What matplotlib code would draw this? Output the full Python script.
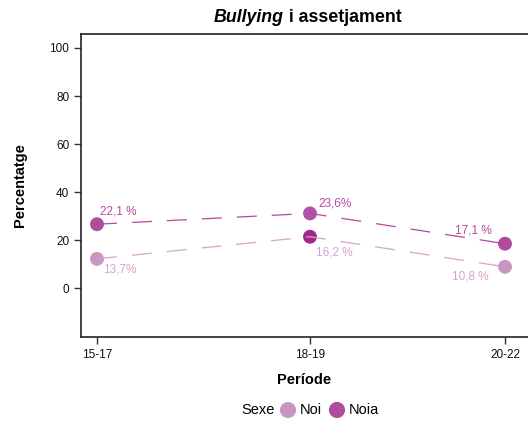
import matplotlib.pyplot as plt

plt.rcParams['font.family'] = ['Liberation Sans', 'DejaVu Sans']

# data
periods = ['15-17', '18-19', '20-22']
x_pos = [0, 213, 408]
noi = [12.3, 21.5, 9.0]
noia = [26.7, 31.2, 18.6]
noi_labels = ['13,7%', '16,2 %', '10,8 %']
noia_labels = ['22,1 %', '23,6%', '17,1 %']

c_noi = '#c996bf'
c_noia = '#b04c9c'
c_noi_line = '#d6a3cd'
c_noia_line = '#b9479f'
noi_pt_colors = [c_noi, '#a02a87', c_noi]
noia_pt_colors = [c_noia, '#b055a5', c_noia]

fig = plt.figure(figsize=(5.28, 4.21), dpi=100)
ax = fig.add_axes([81/528, 1 - 337/421, 447/528, 303/421])

ax.scatter(x_pos, noi, s=100, c=noi_pt_colors, zorder=2, linewidths=0)
ax.scatter(x_pos, noia, s=100, c=noia_pt_colors, zorder=2, linewidths=0)
ax.plot(x_pos, noi, color=c_noi_line, lw=0.9, dashes=(16, 12), zorder=3)
ax.plot(x_pos, noia, color=c_noia_line, lw=0.9, dashes=(16, 12), zorder=3)

# labels (offsets in pixels)
noia_off = [(3, 13), (8, 10), (-50, 13.5)]
noi_off = [(6, -11), (6, -16), (-53, -10)]
for i in range(3):
    ax.annotate(noia_labels[i], (x_pos[i], noia[i]), xytext=noia_off[i],
                textcoords='offset pixels', ha='left', va='center',
                fontsize=8.5, color=c_noia_line)
    ax.annotate(noi_labels[i], (x_pos[i], noi[i]), xytext=noi_off[i],
                textcoords='offset pixels', ha='left', va='center',
                fontsize=8.5, color=c_noi_line)

ax.set_xlim(-16, 431)
ax.set_ylim(-20.2, 105.8)
ax.set_yticks([0, 20, 40, 60, 80, 100])
ax.set_xticks(x_pos)
ax.set_xticklabels(periods)
ax.tick_params(labelsize=8.5, length=5, width=1, colors='#333333', labelcolor='#111111')
for s in ['left', 'bottom', 'top']:
    ax.spines[s].set_linewidth(1.2)
    ax.spines[s].set_color('#222222')
ax.spines['right'].set_visible(False)

ax.set_xlabel('Període', fontsize=10.5, fontweight='bold', labelpad=9)
ax.set_ylabel('Percentatge', fontsize=10.5, fontweight='bold', labelpad=16)

# title: italic part + regular bold part
title_y = 1 - 17/421
split_x = 284/528
fig.text(split_x, title_y, 'Bullying', fontsize=12.8, fontweight='bold',
         style='italic', ha='right', va='center')
fig.text(split_x, title_y, ' i assetjament', fontsize=12.8,
         fontweight='bold', ha='left', va='center')

# legend
leg_ax = fig.add_axes([0, 0, 1, 1], frameon=False)
leg_ax.set_xlim(0, 528)
leg_ax.set_ylim(421, 0)
leg_ax.axis('off')
leg_ax.text(275, 410, 'Sexe', fontsize=10.5, ha='right', va='center')
leg_ax.scatter([288, 337], [410, 410], s=135, c=[c_noi, c_noia], linewidths=0)
leg_ax.text(300, 410, 'Noi', fontsize=10.5, va='center')
leg_ax.text(349, 410, 'Noia', fontsize=10.5, va='center')

fig.savefig('out.png', dpi=100)
